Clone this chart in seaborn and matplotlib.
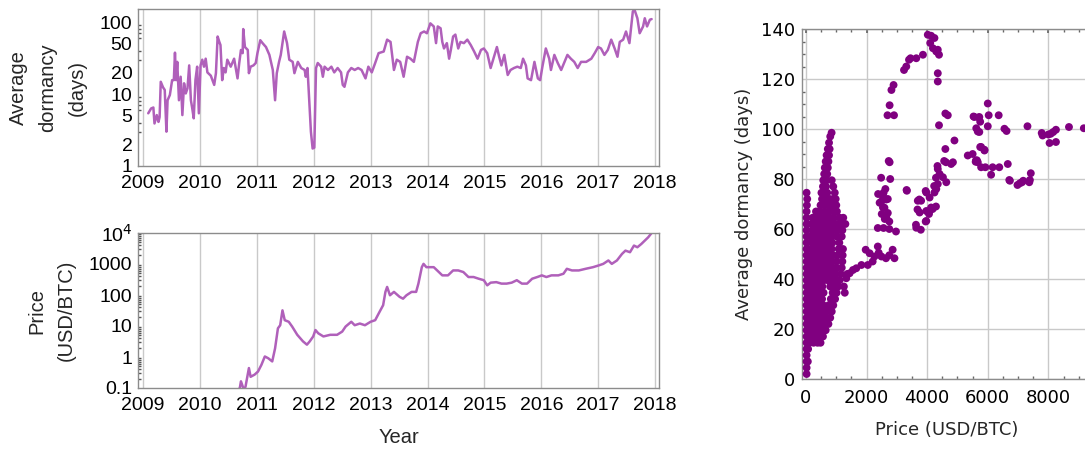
import numpy as np
import matplotlib
matplotlib.use("Agg")
import matplotlib.pyplot as plt
import matplotlib.ticker as mticker
from matplotlib import font_manager
import seaborn as sns

# ---- top left: average dormancy over time (days, log scale) ----
dorm_year = [
    2009.09, 2009.14, 2009.18, 2009.20, 2009.24, 2009.27, 2009.29, 2009.31, 2009.35, 2009.38,
    2009.41, 2009.43, 2009.47, 2009.51, 2009.54, 2009.56, 2009.58, 2009.60, 2009.63, 2009.66,
    2009.69, 2009.72, 2009.75, 2009.78, 2009.81, 2009.84, 2009.86, 2009.89, 2009.92, 2009.95,
    2009.98, 2010.01, 2010.04, 2010.07, 2010.10, 2010.13, 2010.19, 2010.25, 2010.28, 2010.31,
    2010.34, 2010.36, 2010.39, 2010.42, 2010.45, 2010.48, 2010.54, 2010.60, 2010.66, 2010.69,
    2010.72, 2010.75, 2010.76, 2010.79, 2010.84, 2010.86, 2010.89, 2010.94, 2010.98, 2011.01,
    2011.06, 2011.10, 2011.16, 2011.22, 2011.28, 2011.32, 2011.35, 2011.39, 2011.42, 2011.45,
    2011.48, 2011.53, 2011.57, 2011.63, 2011.66, 2011.72, 2011.78, 2011.84, 2011.86, 2011.89,
    2011.92, 2011.95, 2011.98, 2012.01, 2012.04, 2012.07, 2012.13, 2012.16, 2012.19, 2012.25,
    2012.31, 2012.36, 2012.42, 2012.48, 2012.51, 2012.54, 2012.60, 2012.66, 2012.72, 2012.78,
    2012.84, 2012.91, 2012.96, 2013.02, 2013.08, 2013.14, 2013.23, 2013.29, 2013.35, 2013.41,
    2013.46, 2013.52, 2013.58, 2013.64, 2013.70, 2013.76, 2013.83, 2013.88, 2013.94, 2013.99,
    2014.05, 2014.11, 2014.15, 2014.18, 2014.23, 2014.26, 2014.29, 2014.34, 2014.38, 2014.41,
    2014.45, 2014.49, 2014.54, 2014.58, 2014.64, 2014.70, 2014.76, 2014.82, 2014.88, 2014.94,
    2014.99, 2015.05, 2015.11, 2015.17, 2015.22, 2015.26, 2015.30, 2015.35, 2015.41, 2015.46,
    2015.52, 2015.58, 2015.64, 2015.68, 2015.73, 2015.76, 2015.82, 2015.88, 2015.94, 2015.98,
    2016.02, 2016.08, 2016.14, 2016.17, 2016.23, 2016.29, 2016.35, 2016.41, 2016.46, 2016.52,
    2016.58, 2016.64, 2016.70, 2016.79, 2016.88, 2016.94, 2017.00, 2017.05, 2017.11, 2017.17,
    2017.23, 2017.29, 2017.34, 2017.38, 2017.44, 2017.49, 2017.55, 2017.61, 2017.64, 2017.69,
    2017.73, 2017.79, 2017.82, 2017.86, 2017.91, 2017.94,
]
dorm_days = [
    5.4, 6.3, 6.5, 3.9, 5.1, 4.1, 4.8, 14.8, 12.4, 11.4,
    3.0, 8.2, 9.7, 15.6, 15.6, 37.6, 15.6, 28, 8.2, 17.4,
    5.1, 14.1, 10.2, 12, 25, 8.2, 6.6, 4.6, 15.6, 24,
    5.4, 25, 30, 24, 31, 20, 18, 13.4, 19.5, 63,
    53, 48, 15.6, 23, 20, 30, 24, 31, 16.5, 27,
    41, 37, 80, 45, 41, 19.5, 24, 25, 27, 37,
    56, 51, 45, 35, 21.6, 8.2, 19.5, 28, 35, 51,
    74, 51, 30, 28, 19.5, 28, 23, 21.6, 17.4, 23,
    8.2, 3.0, 1.75, 1.8, 23, 27, 24, 17.4, 24, 21.6,
    24, 20, 23, 20, 13.4, 12.6, 20, 23, 21.6, 23,
    21.6, 16.5, 24, 20, 27, 37, 39, 57, 53, 21.6,
    30, 28, 17.4, 33, 31, 28, 53, 70, 74, 70,
    96, 87, 51, 87, 82, 53, 43, 51, 31, 41,
    63, 67, 43, 53, 51, 57, 48, 39, 31, 41,
    43, 37, 23, 33, 45, 33, 25, 35, 18.4, 21.6,
    23, 24, 23, 31, 25, 16.5, 15.6, 28, 16.5, 15.6,
    24, 43, 31, 21.6, 35, 27, 21.6, 28, 35, 31,
    28, 23, 28, 28, 31, 37, 45, 43, 35, 41,
    57, 43, 33, 53, 57, 74, 51, 141, 148, 113,
    70, 87, 113, 87, 108, 110,
]

# ---- bottom left: price over time (USD/BTC, log scale) ----
price_year = [
    2010.59, 2010.70, 2010.72, 2010.77, 2010.80, 2010.86, 2010.89, 2010.96, 2011.02, 2011.08,
    2011.14, 2011.20, 2011.27, 2011.32, 2011.37, 2011.41, 2011.45, 2011.49, 2011.56, 2011.62,
    2011.71, 2011.81, 2011.88, 2011.93, 2011.99, 2012.03, 2012.08, 2012.17, 2012.29, 2012.41,
    2012.50, 2012.56, 2012.66, 2012.72, 2012.81, 2012.90, 2013.00, 2013.08, 2013.14, 2013.22,
    2013.26, 2013.29, 2013.34, 2013.41, 2013.51, 2013.57, 2013.63, 2013.72, 2013.80, 2013.84,
    2013.90, 2013.93, 2013.98, 2014.05, 2014.11, 2014.17, 2014.26, 2014.36, 2014.45, 2014.54,
    2014.63, 2014.72, 2014.81, 2014.90, 2014.99, 2015.05, 2015.11, 2015.21, 2015.30, 2015.39,
    2015.48, 2015.57, 2015.66, 2015.75, 2015.84, 2015.93, 2016.01, 2016.09, 2016.18, 2016.30,
    2016.39, 2016.45, 2016.54, 2016.66, 2016.78, 2016.91, 2017.01, 2017.09, 2017.18, 2017.24,
    2017.33, 2017.42, 2017.48, 2017.56, 2017.63, 2017.69, 2017.76, 2017.82, 2017.88, 2017.94,
]
price_usd = [
    0.06, 0.1, 0.164, 0.089, 0.11, 0.44, 0.23, 0.27, 0.34, 0.56,
    1.04, 0.91, 0.72, 1.9, 8.4, 10.6, 32, 15.4, 13.7, 9.6,
    5.2, 3.2, 2.5, 3.2, 4.6, 7.4, 5.8, 4.6, 5.2, 5.2,
    6.6, 9.6, 13.7, 10.6, 12, 10.6, 13.7, 15.4, 25, 47,
    126, 182, 98, 126, 87, 76, 98, 126, 126, 233,
    790, 1010, 790, 790, 790, 620, 430, 430, 620, 620,
    550, 380, 380, 335, 300, 205, 250, 260, 233, 233,
    250, 300, 233, 233, 335, 380, 430, 380, 430, 430,
    485, 700, 620, 620, 700, 790, 900, 1010, 1300, 1010,
    1300, 2120, 2700, 2400, 3930, 3470, 4440, 5680, 7260, 10000,
]

# ---- right: dormancy vs price ----
# dense low-price cloud, one row per dormancy level
cloud_dorm = [
    2, 4.5, 7, 9.5, 12, 14.5, 17, 19.5, 22, 24.5, 27, 29.5, 32, 34.5, 37, 39.5,
    42, 44.5, 47, 49.5, 52, 54.5, 57, 59.5, 62, 64.5, 67, 69.5, 72, 74.5, 77,
    79.5, 82, 84.5, 87, 89.5, 92, 94.5, 97, 98.5,
]
cloud_price = [
    [20], [20], [20, 60], [20], [20, 70],
    [20, 120, 250, 380, 480],
    [20, 130, 270, 420, 560],
    [20, 100, 230, 380, 520, 650],
    [20, 90, 200, 340, 480, 620, 740],
    [20, 140, 280, 420, 560, 700, 800],
    [20, 100, 240, 380, 520, 660, 850],
    [20, 150, 290, 430, 570, 750, 900],
    [20, 110, 250, 390, 530, 820, 960],
    [20, 160, 300, 440, 580, 880, 1010, 1280],
    [20, 120, 260, 400, 540, 800, 940, 1060, 1250],
    [20, 170, 310, 450, 590, 720, 860, 1000, 1110],
    [20, 130, 270, 410, 550, 690, 830, 970, 1150, 1360],
    [20, 180, 320, 460, 600, 740, 880, 1020, 1180],
    [20, 140, 280, 420, 560, 700, 840, 1000, 1200],
    [20, 190, 330, 470, 610, 750, 890, 1050, 1210],
    [20, 150, 290, 430, 570, 710, 850, 1080, 1220],
    [20, 200, 340, 480, 620, 760, 870, 1100],
    [20, 160, 300, 440, 580, 720, 860, 1020, 1180],
    [20, 210, 350, 490, 630, 770, 910, 1060, 1200],
    [20, 170, 310, 450, 590, 730, 870, 1010, 1150, 1300],
    [20, 220, 360, 500, 640, 780, 920, 1110, 1230],
    [20, 330, 470, 610, 750, 900, 1020],
    [30, 480, 620, 760, 880, 1000],
    [40, 530, 650, 780, 900, 980],
    [20, 510, 600, 700, 950],
    [560, 660, 900], [570, 680, 850], [600, 700], [620, 720], [650, 740],
    [680, 760], [720, 780], [760], [800], [845],
]
# sparse points at higher prices
sparse_price = [
    1330, 1440, 1550, 1660, 1830, 1970, 2040, 2100, 2200, 2260, 2370, 2400, 2490, 2640, 2750,
    2860, 2920, 2370, 2560, 2750, 2970, 2480, 2560, 2650, 2430, 2590, 2700, 2750, 2730, 2540,
    2620, 2500, 2700, 2600, 2380, 2490, 2540, 2650, 2780, 2760, 2690, 2905, 2760, 2820, 2890,
    3235, 3310, 3400, 3450, 3640, 3860, 4020, 4130, 4240, 4100, 4190, 4350, 4300, 4390, 4350,
    4350, 4390, 4600, 4680, 4900, 4600, 4620, 4790, 4850, 4350, 4410, 4520, 4630, 4350, 4300,
    4240, 4080, 4130, 4080, 3970, 3970, 3800, 3750, 3690, 3330, 3640, 3970, 3320, 3740, 3680,
    3950, 3630, 3790, 3950, 4060, 4230, 4290, 4340, 4560, 4180, 4290,
    5340, 5500, 5530, 5560, 5700, 5720, 5750, 5620, 5670, 5720, 5610, 5670, 5600, 5640, 5780,
    5750, 5890, 5780, 5920, 5890, 6000, 6030, 6000, 6110, 6160, 6360, 6380, 6550, 6620, 6660,
    6730, 6710, 6980, 7060, 7130, 7170, 7310, 7370, 7390, 7420, 7780, 7810, 8000, 8080, 8160,
    8250, 8040, 8250, 8680, 9170,
]
sparse_dorm = [
    40.3, 42.3, 43.6, 44.3, 45.6, 51.7, 45.6, 50.3, 47, 49, 53, 50.5, 49, 48.3, 49.5,
    51.7, 48.3, 60.4, 60.4, 60, 59, 80.5, 74.5, 71.8, 70.5, 68.5, 66.4, 63, 87.2, 73,
    76, 66, 72, 64, 74, 71, 68.6, 64.6, 80, 86.7, 105.5, 105.5, 109.5, 115.6, 117.6,
    123.6, 125, 127.7, 128.3, 128.3, 129.7, 137.7, 137.3, 136.4, 134.4, 132.3, 131.7, 131, 129.7, 122.3,
    119, 101.5, 106.2, 105.5, 95.4, 92, 86.7, 86, 86.7, 84, 82, 80.7, 78.7, 78, 76,
    74.6, 72.6, 68.6, 67.2, 67.2, 74.6, 71.3, 66.6, 71.3, 75.3, 60.5, 63.2, 75.6, 71.8, 67.8,
    75.2, 61.7, 59.7, 63, 66, 77.2, 80.5, 85.2, 87.2, 68, 69,
    89.4, 90, 105, 104.8, 104.6, 104.8, 102.9, 100.3, 99, 98.8, 87.4, 86.7, 86.9, 87.5, 92.8,
    92.8, 91.7, 84.7, 84.7, 91.4, 110.2, 105.5, 101.1, 81.7, 84.7, 105.5, 84.7, 100.1, 99.2, 86,
    79.3, 79.6, 77.6, 78.3, 78.7, 79.3, 101.1, 78.7, 79.6, 82.3, 98.4, 97.4, 97.8, 98.1, 98.8,
    99.7, 94.4, 94.8, 100.8, 100.3,
]

line_color = "#b060ba"
dot_color = "#800080"
grid_color = "#c9c9c9"
spine_color = "#8c8c8c"

sns.set_theme(style="white")

# Arial-like face for the time series panels, DejaVu for the scatter panel
left_fonts = ["Liberation Sans", "DejaVu Sans"]
for p in font_manager.findSystemFonts():
    if p.endswith("LiberationSans-Regular.ttf"):
        font_manager.fontManager.addfont(p)
        left_fonts = [font_manager.FontProperties(fname=p).get_name(), "DejaVu Sans"]
        break
plt.rcParams["font.family"] = left_fonts

fig = plt.figure(figsize=(10.85, 4.49), dpi=100)
W, H = 1085.0, 449.0


def box(l, t, r, b):
    return [l / W, 1 - b / H, (r - l) / W, (b - t) / H]


ax1 = fig.add_axes(box(138, 9, 659, 166))
ax2 = fig.add_axes(box(138, 233, 659, 388))
ax3 = fig.add_axes(box(802, 29, 1092, 379))

years = list(range(2009, 2019))

sns.lineplot(x=np.array(dorm_year), y=np.array(dorm_days), ax=ax1, color=line_color,
             lw=1.8, estimator=None, sort=False)
sns.lineplot(x=np.array(price_year), y=np.array(price_usd), ax=ax2, color=line_color,
             lw=1.8, estimator=None, sort=False)

for ax in (ax1, ax2):
    ax.set_yscale("log")
    ax.set_xlim(2008.91, 2018.07)
    ax.set_xticks(years)
    ax.set_xticklabels([str(y) for y in years])
    ax.grid(False)
    for yv in years:
        ax.axvline(yv, color=grid_color, lw=1.0, zorder=0)
    for s in ax.spines.values():
        s.set_color(spine_color)
        s.set_linewidth(1.0)
    ax.tick_params(axis="both", which="both", direction="in", colors="#555555",
                   labelcolor="black", labelsize=14)
    ax.tick_params(axis="y", which="major", length=3, pad=4)
    ax.tick_params(axis="y", which="minor", length=1.8, left=True)
    ax.tick_params(axis="x", which="major", length=0, pad=6.5)
    ax.set_xlabel("")

ax1.set_ylim(1, 152)
ax1.yaxis.set_major_locator(mticker.FixedLocator([1, 2, 5, 10, 20, 50, 100]))
ax1.yaxis.set_major_formatter(mticker.FixedFormatter(["1", "2", "5", "10", "20", "50", "100"]))
ax1.yaxis.set_minor_locator(mticker.LogLocator(base=10, subs=np.arange(1, 10), numticks=20))
ax1.yaxis.set_minor_formatter(mticker.NullFormatter())
ax1.set_ylabel("Average\ndormancy\n(days)", fontsize=14.5, linespacing=1.7)
ax1.yaxis.set_label_coords(-0.098, 0.5)

ax2.set_ylim(0.1, 1e4)
ax2.yaxis.set_major_locator(mticker.FixedLocator([0.1, 1, 10, 100, 1000, 1e4]))
ax2.yaxis.set_major_formatter(mticker.FixedFormatter(["0.1", "1", "10", "100", "1000", r"10$^4$"]))
ax2.yaxis.set_minor_locator(mticker.LogLocator(base=10, subs=np.arange(1, 10), numticks=20))
ax2.yaxis.set_minor_formatter(mticker.NullFormatter())
ax2.set_ylabel("Price\n(USD/BTC)", fontsize=14.5, linespacing=1.7)
ax2.yaxis.set_label_coords(-0.119, 0.5)
ax2.set_xlabel("Year", fontsize=14.5, labelpad=10)

for ax in (ax1, ax2):
    for lab in ax.get_xticklabels() + ax.get_yticklabels():
        lab.set_fontfamily(left_fonts)
    ax.yaxis.label.set_fontfamily(left_fonts)
    ax.xaxis.label.set_fontfamily(left_fonts)

# scatter panel
sc_x = [p for row in cloud_price for p in row] + sparse_price
sc_y = [d for d, row in zip(cloud_dorm, cloud_price) for _ in row] + sparse_dorm
sns.scatterplot(x=np.array(sc_x), y=np.array(sc_y), ax=ax3, color=dot_color, s=32,
                linewidth=0, edgecolor="none", zorder=3)

ax3.set_xlim(-132, 9440)
ax3.set_ylim(0, 140)
ax3.set_xticks([0, 2000, 4000, 6000, 8000])
ax3.set_yticks([0, 20, 40, 60, 80, 100, 120, 140])
ax3.xaxis.set_minor_locator(mticker.MultipleLocator(500))
ax3.yaxis.set_minor_locator(mticker.MultipleLocator(5))
ax3.grid(True, which="major", color=grid_color, lw=1.0)
ax3.set_axisbelow(True)
for s in ax3.spines.values():
    s.set_color(spine_color)
    s.set_linewidth(1.0)
ax3.tick_params(axis="both", which="both", direction="in", colors="#666666",
                labelcolor="black")
ax3.tick_params(axis="both", which="major", length=3, labelsize=13)
ax3.tick_params(axis="x", which="major", pad=7)
ax3.tick_params(axis="y", which="major", pad=5)
ax3.tick_params(axis="both", which="minor", length=2, bottom=True, left=True, top=True)
ax3.tick_params(axis="x", which="both", top=True)
for lab in ax3.get_xticklabels() + ax3.get_yticklabels():
    lab.set_fontfamily("DejaVu Sans")
ax3.set_xlabel("Price (USD/BTC)", fontsize=13, family="DejaVu Sans", labelpad=10)
ax3.set_ylabel("Average dormancy (days)", fontsize=13, family="DejaVu Sans", labelpad=6)

fig.savefig("out.png", dpi=100)
